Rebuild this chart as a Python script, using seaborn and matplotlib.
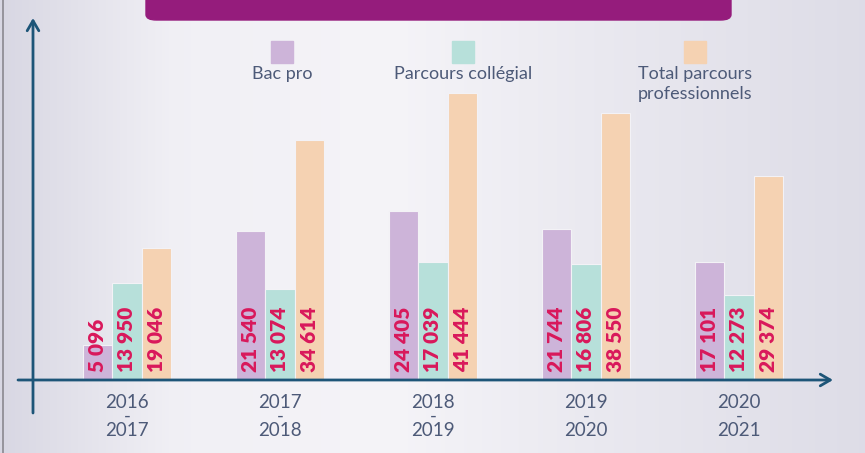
import matplotlib.pyplot as plt
import matplotlib.patches as mpatches
import numpy as np
import pandas as pd
import seaborn as sns

annees = ['2016\n-\n2017', '2017\n-\n2018', '2018\n-\n2019', '2019\n-\n2020', '2020\n-\n2021']
series = ['Bac pro', 'Parcours collégial', 'Total parcours\nprofessionnels']
bac_pro = [5096, 21540, 24405, 21744, 17101]
collegial = [13950, 13074, 17039, 16806, 12273]
total = [19046, 34614, 41444, 38550, 29374]
couleurs = ['#cdb4d9', '#b7e0da', '#f5d2b2']

df = pd.DataFrame({
    'annee': annees * 3,
    'serie': [series[0]] * 5 + [series[1]] * 5 + [series[2]] * 5,
    'valeur': bac_pro + collegial + total,
})

W, H = 865, 453
sns.set_theme(style='white')
plt.rcParams['font.family'] = ['Lato', 'DejaVu Sans']

fig = plt.figure(figsize=(W / 100, H / 100), dpi=100)


def fx(x, y):
    return (x / W, 1 - y / H)


# fond en dégradé
bg = fig.add_axes([0, 0, 1, 1], zorder=-2)
xs = np.linspace(0, 1, 400)
lum = np.interp(xs, [0, 0.2, 0.45, 0.7, 1], [0.0, 0.85, 1.0, 0.6, 0.2])
c0 = np.array([216, 215, 227]) / 255
c1 = np.array([245, 244, 248]) / 255
grad = c0[None, :] + (c1 - c0)[None, :] * lum[:, None]
bg.imshow(grad[None, :, :], aspect='auto', extent=[0, 1, 0, 1])
bg.axvline(2.5 / W, color='#8a8890', lw=1.2)
bg.set_xlim(0, 1)
bg.set_ylim(0, 1)
bg.axis('off')

# bandeau titre
banner = mpatches.FancyBboxPatch(fx(146, 20), (731 - 146) / W, 40 / H,
                                 boxstyle='round,pad=0,rounding_size=0.012',
                                 transform=fig.transFigure, color='#951c7c', zorder=1)
fig.patches.append(banner)

# axes principaux
ax = fig.add_axes([33 / W, (H - 380) / H, (832 - 33) / W, 370 / H])
ax.set_facecolor('none')
sns.barplot(data=df, x='annee', y='valeur', hue='serie', palette=couleurs,
            saturation=1, width=0.58, edgecolor='#f3f2f6', linewidth=0.8,
            legend=False, ax=ax)
ax.set_xlim(-0.614, 4.608)
ax.set_ylim(0, 53400)
for s in ax.spines.values():
    s.set_visible(False)
ax.set(xlabel='', ylabel='', yticks=[])
ax.tick_params(axis='x', length=0, pad=10, labelsize=13.5, labelcolor='#4d5a78')
for t in ax.get_xticklabels():
    t.set_linespacing(0.78)

for cont in ax.containers:
    for bar in cont:
        v = int(round(bar.get_height()))
        ax.annotate(f'{v:,}'.replace(',', ' '),
                    (bar.get_x() + bar.get_width() / 2, 0),
                    xytext=(0, 6), textcoords='offset points',
                    rotation=90, ha='center', va='bottom',
                    color='#d9185b', fontsize=15, fontweight='heavy')

# flèches des axes
arrow = dict(arrowstyle='->,head_length=0.6,head_width=0.35', color='#1d5578',
             lw=2, shrinkA=0, shrinkB=0)
ax.annotate('', xy=fx(33, 18), xytext=fx(33, 413), xycoords='figure fraction',
            textcoords='figure fraction', arrowprops=arrow)
ax.annotate('', xy=fx(833, 380), xytext=fx(18, 380), xycoords='figure fraction',
            textcoords='figure fraction', arrowprops=arrow)

# légende
leg_x = [282, 463, 695]
for x, lab, c in zip(leg_x, series, couleurs):
    fig.patches.append(mpatches.Rectangle(fx(x - 11, 63), 22 / W, 22 / H,
                                          transform=fig.transFigure, color=c))
    fig.text(*fx(x, 66), lab, ha='center', va='top', fontsize=13,
             color='#4d5a78', linespacing=1.3)

plt.savefig('out.png', dpi=100)
